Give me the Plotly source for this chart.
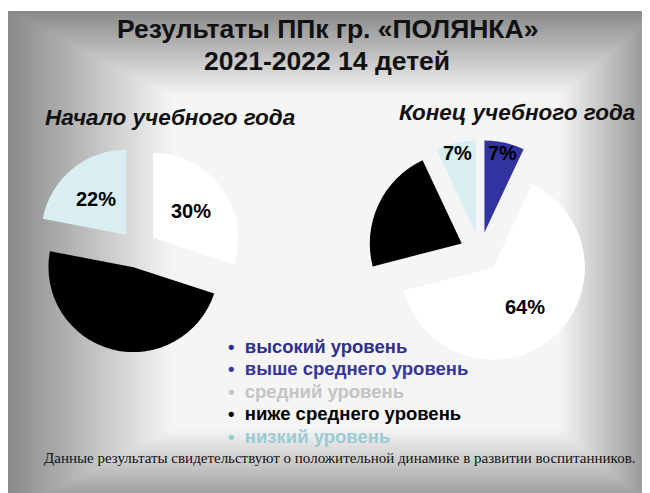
import math
import plotly.graph_objects as go

# ---------------- data ----------------
levels = ["высокий уровень", "выше среднего уровень", "средний уровень",
          "ниже среднего уровень", "низкий уровень"]
start_values = [0, 0, 30, 48, 22]   # Начало учебного года, %
end_values = [0, 7, 64, 22, 7]      # Конец учебного года, %
slice_colors = ["#2e3192", "#3333a0", "#ffffff", "#000000", "#d9eef1"]
legend_colors = ["#2e2e8c", "#35359e", "#c4c4c4", "#000000", "#9acbd3"]

title_line1 = "Результаты ППк гр. «ПОЛЯНКА»"
title_line2 = "2021-2022 14 детей"
pie_titles = ["Начало учебного года", "Конец учебного года"]
footer = "Данные результаты свидетельствуют о положительной динамике в развитии воспитанников."

# ---------------- layout constants ----------------
W, H = 650, 493
PULL = 0.22
domains = [
    dict(x=[0.0406, 0.3596], y=[0.3008, 0.7213]),
    dict(x=[0.5532, 0.8992], y=[0.2773, 0.7323]),
]
FONT = "Liberation Sans, Arial"

fig = go.Figure()
annotations = []


def pie_geometry(dom):
    bw = W * (dom["x"][1] - dom["x"][0])
    bh = H * (dom["y"][1] - dom["y"][0])
    r = min(bw, bh) / 2 / (1 + PULL)
    cx = W * (dom["x"][0] + dom["x"][1]) / 2
    cy = H * (1 - dom["y"][0]) - bh / 2
    return cx, cy, r


def px_ann(x, y, text, size, color, family=FONT, xanchor="center"):
    return dict(x=x / W, y=1 - y / H, xref="paper", yref="paper", text=text,
                showarrow=False, font=dict(family=family, size=size, color=color),
                xanchor=xanchor, yanchor="middle")


for values, dom in zip([start_values, end_values], domains):
    keep = [i for i, v in enumerate(values) if v > 0]
    vals = [values[i] for i in keep]
    cols = [slice_colors[i] for i in keep]
    fig.add_trace(go.Pie(
        values=vals, labels=[levels[i] for i in keep],
        marker=dict(colors=cols, line=dict(width=0)),
        sort=False, direction="clockwise", rotation=0,
        pull=PULL, textinfo="none", hoverinfo="label+percent",
        domain=dom, showlegend=False,
    ))
    # percent labels placed along each slice's mid-angle
    cx, cy, r = pie_geometry(dom)
    total = sum(vals)
    acc = 0
    for v, c in zip(vals, cols):
        mid = (acc + v / 2) / total * 2 * math.pi
        acc += v
        if c == "#000000":
            continue
        share = v / total
        frac = 0.88 if share < 0.1 else 0.55
        px = cx + (PULL * r + frac * r) * math.sin(mid)
        py = cy - (PULL * r + frac * r) * math.cos(mid)
        annotations.append(px_ann(px, py, f"<b>{round(share * 100)}%</b>", 20, "#000000"))

# titles
annotations.append(px_ann(319, 21, f"<b>{title_line1}</b>", 26.5, "#111111"))
annotations.append(px_ann(319, 53, f"<b>{title_line2}</b>", 26.5, "#111111"))
for t, (x, y) in zip(pie_titles, [(162, 109), (509, 104)]):
    annotations.append(px_ann(x, y, f"<b><i>{t}</i></b>", 22.5, "#111111"))

# bulleted legend
for k, (lab, col) in enumerate(zip(levels, legend_colors)):
    annotations.append(px_ann(218, 338 + k * 22.5, f"<b>•\u00a0\u00a0{lab}</b>", 18.5, col,
                              xanchor="left"))

# footer
annotations.append(px_ann(331, 450, footer, 15, "#111111",
                          family="Liberation Serif, Times New Roman"))

# background: rectangular "from centre" gradient made of nested rectangles
shapes = []
N = 40
outer = (-1, 3, 652, 505)     # x0, y0, x1, y1 in px
inner = (162, 87, 552, 422)
c_out, c_in = 0x8a, 0xf5
for i in range(N + 1):
    t = i / N
    g = int(round(c_out + (c_in - c_out) * t))
    col = f"rgb({g},{g},{g})"
    bx0 = outer[0] + (inner[0] - outer[0]) * t
    by0 = outer[1] + (inner[1] - outer[1]) * t
    bx1 = outer[2] + (inner[2] - outer[2]) * t
    by1 = outer[3] + (inner[3] - outer[3]) * t
    shapes.append(dict(type="rect", xref="paper", yref="paper", layer="below",
                       x0=bx0 / W, x1=bx1 / W, y0=1 - by1 / H, y1=1 - by0 / H,
                       fillcolor=col, line=dict(width=0)))

fig.update_layout(
    width=W, height=H, margin=dict(l=0, r=0, t=0, b=0),
    paper_bgcolor="#ffffff", plot_bgcolor="rgba(0,0,0,0)",
    annotations=annotations, shapes=shapes,
)

fig.write_html("out.html")
